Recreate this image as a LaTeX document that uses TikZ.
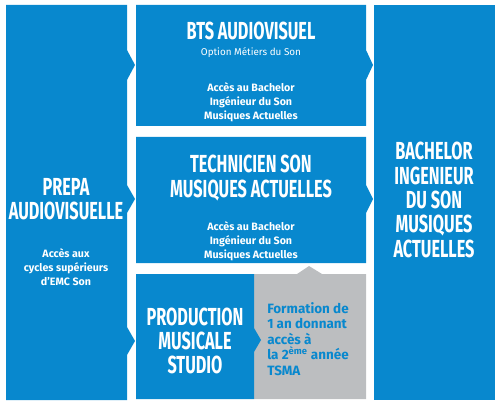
\documentclass[tikz,border=0pt]{standalone}
\usepackage{fontspec}
\setmainfont{Fira Sans}
\newfontfamily\titlefont[FakeStretch=0.66]{Fira Sans}
\definecolor{emcblue}{RGB}{8,136,206}
\definecolor{emcgrey}{RGB}{188,190,192}

\begin{document}
\begin{tikzpicture}[x=0.75pt,y=0.75pt,yscale=-1,xscale=1,
  bluebox/.style={fill=emcblue,draw=none},
  greybox/.style={fill=emcgrey,draw=none},
  bigtitle/.style={text=white,align=center,inner sep=0pt,font=\titlefont\bfseries\fontsize{18.5}{18.3}\selectfont},
  optiontext/.style={text=white,align=center,inner sep=0pt,font=\fontsize{7.4}{10.5}\selectfont},
  whitetext/.style={text=white,align=center,inner sep=0pt,font=\bfseries\fontsize{8}{10.5}\selectfont},
  bluetext/.style={text=emcblue,align=left,inner sep=0pt,font=\bfseries\fontsize{10.1}{11.6}\selectfont}]
%set diagram to the size of the reference
\useasboundingbox (0,0) rectangle (500,406);

%Shape: Prepa
\path[bluebox] (6,5) -- (127,5) -- (127,50) -- (135,65) -- (127,80) -- (127,185) -- (135,199) -- (127,213) -- (127,327) -- (135,341) -- (127,355) -- (127,400) -- (6,400) -- cycle ;
%Shape: BTS
\path[bluebox] (136,5) -- (366,5) -- (366,50) -- (373,65) -- (366,80) -- (366,126) -- (136,126) -- cycle ;
%Shape: Technicien
\path[bluebox] (136,137) -- (366,137) -- (366,185) -- (373,199) -- (366,213) -- (366,263) -- (136,263) -- cycle ;
%Shape: Formation (grey)
\path[greybox] (254,274) -- (297,274) -- (309,266) -- (322,274) -- (366,274) -- (366,399) -- (254,399) -- cycle ;
%Shape: Production
\path[bluebox] (136,274) -- (254,274) -- (254,328) -- (261,340) -- (254,352) -- (254,399) -- (136,399) -- cycle ;
%Shape: Bachelor
\path[bluebox] (374,5) -- (495,5) -- (495,400) -- (374,400) -- cycle ;

% Text Node
\node[bigtitle] (prepaTitle) at (66,199) {PREPA\\AUDIOVISUELLE};
% Text Node
\node[whitetext] (prepaText) at (66,267) {Accès aux\\cycles supérieurs\\d’EMC Son};
% Text Node
\node[bigtitle] (btsTitle) at (251,31) {BTS AUDIOVISUEL};
% Text Node
\node[optiontext] (btsOption) at (251,53) {Option Métiers du Son};
% Text Node
\node[whitetext] (btsText) at (251,102) {Accès au Bachelor\\Ingénieur du Son\\Musiques Actuelles};
% Text Node
\node[bigtitle] (techTitle) at (251,178) {TECHNICIEN SON\\MUSIQUES ACTUELLES};
% Text Node
\node[whitetext] (techText) at (251,241) {Accès au Bachelor\\Ingénieur du Son\\Musiques Actuelles};
% Text Node
\node[bigtitle] (prodTitle) at (195,341) {PRODUCTION\\MUSICALE\\STUDIO};
% Text Node
\node[bluetext,anchor=west] (formText) at (267,339) {Formation de\\1 an donnant\\accès à\\la 2\textsuperscript{ème} année\\TSMA};
% Text Node
\node[bigtitle] (bachTitle) at (434,200) {BACHELOR\\INGENIEUR\\DU SON\\MUSIQUES\\ACTUELLES};
\end{tikzpicture}
\end{document}
